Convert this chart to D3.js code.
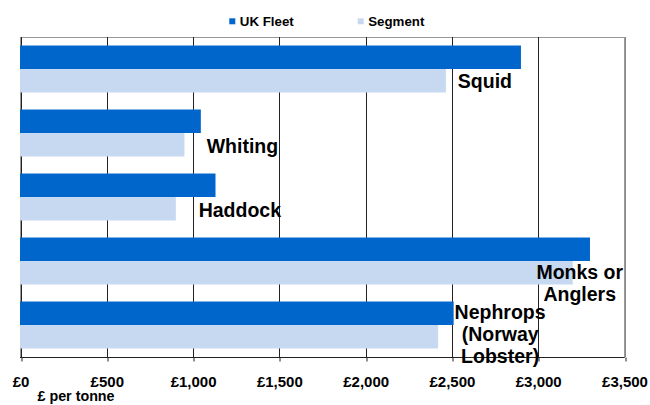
<!DOCTYPE html>
<html>
<head>
<meta charset="utf-8">
<script src="https://cdn.jsdelivr.net/npm/d3@7"></script>
<style>
  html, body { margin: 0; padding: 0; background: #fff; }
  svg { display: block; font-family: "Liberation Sans", Arial, sans-serif; }
</style>
</head>
<body>
<svg id="chart" width="650" height="405"></svg>
<script>
// ---- data ----
const categories = ["Squid", "Whiting", "Haddock", "Monks or Anglers", "Nephrops (Norway Lobster)"];
const labelLines = [["Squid"], ["Whiting"], ["Haddock"], ["Monks or", "Anglers"], ["Nephrops", "(Norway", "Lobster)"]];
const seriesNames = ["UK Fleet", "Segment"];
const ukFleet = [2900, 1045, 1130, 3300, 2510];
const segment = [2465, 950, 900, 3200, 2420];
const tickValues = [0, 500, 1000, 1500, 2000, 2500, 3000, 3500];
const axisTitle = "£ per tonne";

// ---- layout (pixel offsets for category labels, separate from data) ----
const labelDx = [39, 58, 64, 7, 62];
const labelDy = [42, 43, 43, 41, 17];
const colors = ["#0066CC", "#C6D9F1"];

const svg = d3.select("#chart");
const pL = 20.5, pR = 624.5, pT = 37, pB = 357;

const x = d3.scaleLinear().domain([0, 3500]).range([pL, pR]);
const y = d3.scaleBand().domain(categories).range([pT, pB])
  .paddingInner(0.266).paddingOuter(0.133);
const sub = d3.scaleBand().domain(seriesNames).range([0, y.bandwidth()]);

// frame
svg.append("rect")
  .attr("x", pL).attr("y", pT + 0.5)
  .attr("width", pR - pL).attr("height", pB - pT)
  .attr("fill", "none").attr("stroke", "#999").attr("stroke-width", 1);

// gridlines
svg.append("g").selectAll("line").data(tickValues).join("line")
  .attr("x1", d => Math.round(x(d)) + 0.5).attr("x2", d => Math.round(x(d)) + 0.5)
  .attr("y1", pT).attr("y2", pB)
  .attr("stroke", d => d === 3500 ? "#888" : "#222").attr("stroke-width", 1);

// bars
const rows = categories.map((c, i) => ({ c, i, vals: [ukFleet[i], segment[i]] }));
const g = svg.append("g").selectAll("g").data(rows).join("g")
  .attr("transform", d => `translate(0,${y(d.c)})`);
g.selectAll("rect").data(d => d.vals.map((v, k) => ({ v, k, s: seriesNames[k] }))).join("rect")
  .attr("x", x(0) - 0.5)
  .attr("y", d => sub(d.s))
  .attr("width", d => x(d.v) - x(0) + 0.5)
  .attr("height", sub.bandwidth())
  .attr("fill", d => colors[d.k]);

// x axis
const axis = d3.axisBottom(x).tickValues(tickValues).tickSize(4)
  .tickFormat(d => "£" + d3.format(",")(d));
const ax = svg.append("g").attr("transform", `translate(0,${pB + 0.5})`).call(axis);
ax.select(".domain").attr("stroke", "#222").attr("d", `M${pL - 0.5},0H${pR}`);
ax.selectAll(".tick line").attr("stroke", "#222")
  .attr("transform", d => `translate(${Math.round(x(d)) + 0.5 - x(d)},0)`);
ax.selectAll(".tick text")
  .attr("y", 29.5).attr("dy", 0)
  .attr("font-family", "Liberation Sans, Arial, sans-serif")
  .attr("font-size", "15px").attr("font-weight", "bold").attr("fill", "#000");

// axis title
svg.append("text").attr("x", 37.5).attr("y", 401)
  .attr("font-size", "14.3px").attr("font-weight", "bold").attr("fill", "#000")
  .text(axisTitle);

// legend
const legendX = [229.3, 357.7];
const lg = svg.append("g").selectAll("g").data(seriesNames).join("g")
  .attr("transform", (d, i) => `translate(${legendX[i]},0)`);
lg.append("rect").attr("x", 0).attr("y", 18.3).attr("width", 6).attr("height", 6)
  .attr("fill", (d, i) => colors[i]);
lg.append("text").attr("x", 10.5).attr("y", 25.7)
  .attr("font-size", "13.3px").attr("font-weight", "bold").attr("fill", "#000")
  .text(d => d);

// category labels
const lab = svg.append("g").selectAll("text").data(rows).join("text")
  .attr("text-anchor", "middle")
  .attr("font-size", "19.5px").attr("font-weight", "bold").attr("fill", "#000")
  .attr("transform", d => `translate(${x(segment[d.i]) + labelDx[d.i]},${y(d.c) + labelDy[d.i]})`);
lab.selectAll("tspan").data(d => labelLines[d.i]).join("tspan")
  .attr("x", 0).attr("y", (d, j) => j * 22)
  .text(d => d);
</script>
</body>
</html>
